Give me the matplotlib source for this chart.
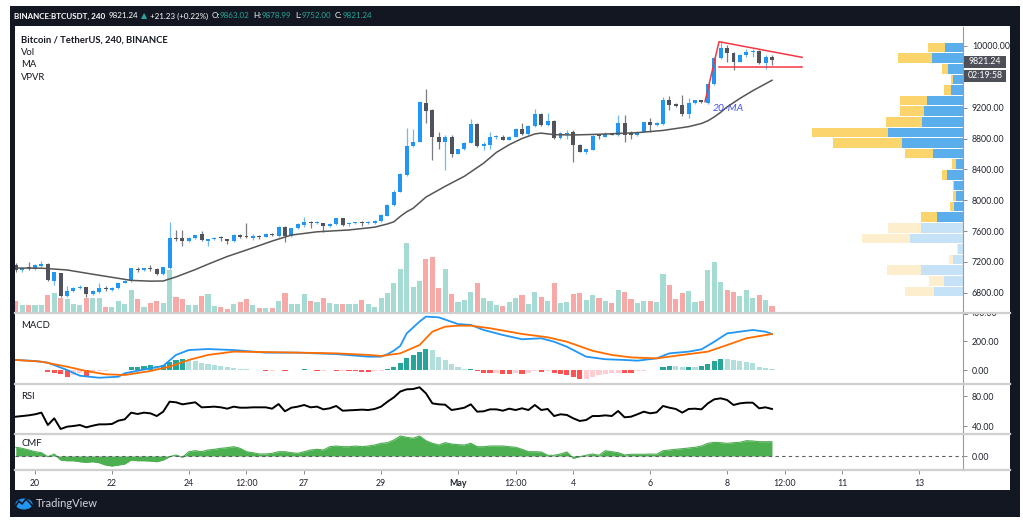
import numpy as np
import matplotlib
matplotlib.use("Agg")
import matplotlib.pyplot as plt
from matplotlib.patches import Rectangle, Ellipse
from matplotlib.lines import Line2D
from matplotlib.transforms import Bbox

plt.rcParams['font.family'] = ['Lato', 'DejaVu Sans']

# ---------------- data ----------------
opens = [7160,7090,7135,7110,7150,7175,6955,7050,6760,6825,
         6858,6870,6785,6815,6860,6835,6858,6930,6950,7110,
         7092,7118,7108,7045,7120,7515,7505,7465,7505,7560,
         7475,7493,7515,7495,7465,7550,7530,7510,7532,7527,
         7560,7530,7655,7530,7636,7680,7722,7698,7700,7660,
         7690,7765,7685,7700,7712,7705,7700,7730,7800,7935,
         8110,8330,8705,8760,9265,9165,8825,8760,8825,8605,
         8660,8746,8985,8705,8710,8815,8825,8785,8825,8920,
         8860,8962,9115,8975,9025,8805,8860,8890,8720,8630,
         8655,8850,8825,8865,8840,8995,8870,8840,8889,9010,
         8970,8990,9296,9245,9235,9118,9260,9296,9260,9503,
         9848,9970,9905,9797,9883,9926,9935,9776,9863.02]
highs = [7190,7140,7200,7175,7210,7180,7075,7060,6890,6870,
         6900,6880,6830,6920,6890,6870,6945,6965,7125,7135,
         7125,7155,7115,7140,7720,7610,7610,7520,7555,7600,
         7500,7525,7540,7500,7560,7565,7700,7560,7545,7570,
         7575,7665,7665,7645,7700,7785,7730,7725,7710,7700,
         7775,7775,7715,7720,7730,7725,7740,7820,7950,8130,
         8350,8930,8920,9290,9440,9180,8890,8840,8840,8670,
         8760,9050,9000,8760,8890,8845,8840,8835,8935,8995,
         8975,9180,9130,9130,9035,8880,8905,8905,8730,8670,
         8840,8860,8880,8875,9105,9100,8900,8900,9020,9060,
         9010,9343,9350,9260,9360,9330,9305,9305,9510,9860,
         10056,10013,9926,9900,9960,9960,9945,9880,9878.99]
lows = [7070,7070,7095,7100,7140,6950,6900,6750,6740,6815,
        6845,6750,6775,6800,6825,6825,6850,6925,6945,7075,
        7085,7085,7030,7035,7110,7465,7400,7455,7500,7470,
        7400,7485,7475,7430,7455,7505,7505,7490,7500,7520,
        7535,7525,7462,7525,7630,7655,7640,7690,7590,7650,
        7680,7670,7660,7690,7670,7695,7690,7720,7790,7920,
        8100,8320,8690,8750,9000,8520,8670,8390,8555,8595,
        8650,8740,8695,8650,8665,8800,8775,8775,8815,8850,
        8850,8955,8960,8965,8790,8795,8790,8500,8620,8600,
        8645,8800,8815,8840,8830,8760,8800,8830,8880,8890,
        8960,8980,9170,9210,9090,9070,9250,9255,9250,9490,
        9830,9797,9689,9790,9860,9860,9770,9700,9752.00]
closes = [7090,7125,7125,7160,7175,6960,7065,6760,6825,6855,
          6878,6785,6822,6865,6845,6858,6930,6952,7117,7095,
          7117,7108,7040,7130,7515,7500,7465,7505,7548,7478,
          7493,7514,7505,7465,7548,7520,7520,7530,7524,7560,
          7545,7655,7530,7636,7692,7722,7698,7712,7660,7690,
          7765,7680,7700,7710,7705,7712,7730,7810,7940,8110,
          8335,8705,8760,9280,9160,8825,8760,8824,8600,8660,
          8746,8985,8705,8725,8815,8828,8785,8825,8920,8860,
          8962,9114,8975,9025,8805,8868,8876,8720,8630,8660,
          8833,8835,8863,8850,8995,8845,8850,8889,9010,8970,
          9000,9296,9240,9225,9118,9257,9296,9270,9503,9848,
          9970,9905,9797,9883,9926,9935,9776,9863,9821.24]
volumes = [11.7,7.7,7.7,7.7,7.7,17.7,20,15,13.3,8.3,
           8,14.3,15,15,6,6,11.7,8.3,22.7,13.3,
           6,9.3,11.7,10,42.3,16,14,8,8,16.7,
           18.3,6.7,5.7,3.3,9,10.7,14,8,5,5,
           5,11.7,19.3,9,9,18.3,11.7,11,14.3,10,
           9,9,9,9,12.3,9,5.7,15,19.3,30,
           43.3,70,25.7,31.7,53.3,56,24.3,43.3,18.3,11,
           12.3,21,30,15,11.7,7.7,6.7,11,15,17.3,
           8.3,21,16,11.7,30,10,10.7,18.3,20,13,
           17.7,14.7,11.7,9.7,22.3,20.7,13.3,9.7,11.7,11.7,
           10.7,39,27.3,13.3,20,21.3,10.7,11.7,43,50.7,
           30.7,22.3,20.7,16.7,22.3,14.7,17.3,13,6.7]

ma_idx = [0,4,8,12,15,18,21,23,25,28,30,33,36,40,43,47,52,56,58,59,60,61,62,64,67,70,73,75,77,79,81,82,84,87,91,97,101,105,107,108,109,110,111,113,115,118]
ma_val = [7120,7118,7095,7040,7000,6960,6950,6952,7005,7100,7170,7270,7354,7470,7548,7590,7614,7650,7692,7720,7790,7850,7895,8040,8180,8310,8480,8620,8720,8800,8860,8870,8850,8846,8855,8876,8905,8954,8995,9030,9080,9140,9210,9320,9420,9555]

macd_idx = [0,3,5,8,10,13,16,17,21,23,25,27,30,34,39,44,50,55,57,58,59,60,61,63,64,66,69,71,73,76,79,82,84,86,89,92,95,97,100,102,105,107,109,111,113,115,117,118]
macd_val = [70,63,51,0,-40,-54,-47,-23,12,28,105,139,146,139,121,121,111,93,93,110,135,168,255,337,372,367,320,314,279,244,214,221,197,162,93,75,70,65,81,116,128,144,197,255,267,279,267,251]
signal_idx = [0,4,8,11,14,17,21,24,27,30,34,39,44,50,55,57,60,63,65,67,69,71,74,79,83,86,90,93,96,100,104,108,111,114,118]
signal_val = [70,58,23,-7,-30,-35,-7,23,70,105,128,125,121,116,105,98,116,174,267,302,309,309,291,251,228,197,134,105,88,81,105,128,174,221,251]
macd_hist = [-2,-2,-1,-1,-1,-16,-19,-30,-46,-35,
             -23,-39,-23,-9,-5,-2,-1,2,19,23,
             28,35,28,35,58,70,74,70,63,51,
             42,35,28,19,12,9,5,2,-2,-5,
             -5,-3,-5,-3,-1,7,2,-5,-5,-3,
             -7,-7,-8,-9,-11,-12,-8,-5,9,23,
             46,81,105,128,144,139,93,70,42,19,
             8,10,-7,-19,-23,-23,-28,-30,-23,-28,
             -19,-9,-14,-10,-23,-28,-35,-46,-65,-65,
             -46,-35,-28,-23,-19,-20,-21,-9,-5,-3,
             -2,23,28,28,23,24,23,28,40,65,
             76,76,70,65,56,46,23,16,9]
rsi = [52.4,53.3,54.2,55.6,57.8,41.3,50.2,36,39.1,40,
       41.3,38.2,40.4,42.2,42.2,42.7,47.1,48.9,57.8,56,
       57.8,56.9,53.3,59.1,72.4,71.6,68.9,70.2,71.6,64.9,
       65.3,65.8,64.9,63.1,65.8,64.4,64.4,64.9,64.9,64.9,
       63.1,69.3,59.6,64.4,65.8,68,64.9,65.8,62.2,63.6,
       66.7,60.4,60.9,61.3,61.8,61.3,62.7,65.8,72.4,78.2,
       86,88.9,89.3,91.6,83.6,70.2,68.9,68.4,61.3,62.7,
       64.4,68.9,59.1,59.6,62.2,62.2,60.4,63.1,61.3,63.6,
       61.3,68,61.3,62.7,53.3,55.6,54.7,50.2,46.7,48,
       53.3,53.3,54.2,53.3,60,51.6,52.4,55.6,59.1,56.9,
       58.2,66.7,64.4,62.7,57.8,62.7,63.1,62.2,70.2,75.6,
       76.9,74.7,68,70.2,71.1,71.1,63.6,64.9,62.7]
cmf = [0.087,0.077,0.060,0.043,0.033,-0.007,0.020,-0.040,-0.047,-0.047,
       -0.057,-0.063,-0.057,-0.067,-0.090,-0.100,-0.090,-0.080,-0.040,-0.047,
       -0.047,-0.050,-0.057,-0.040,-0.007,0.010,-0.013,0.043,0.053,0.043,
       0.060,0.067,0.077,0.083,0.093,0.077,0.043,0.033,0.020,0.020,
       0.027,0.043,0.043,0.033,0.027,0.043,0.060,0.067,0.060,0.093,
       0.100,0.093,0.093,0.100,0.093,0.100,0.110,0.127,0.133,0.160,
       0.200,0.187,0.177,0.200,0.153,0.127,0.110,0.133,0.120,0.113,
       0.110,0.127,0.093,0.093,0.100,0.100,0.100,0.093,0.087,0.067,
       0.043,0.043,0.040,0.007,0.007,0.020,0.040,-0.023,-0.007,0.007,
       0.020,0.007,0.053,0.043,0.033,0.010,0.017,0.017,0.017,0.020,
       0.017,0.053,0.060,0.067,0.073,0.080,0.087,0.100,0.127,0.137,
       0.133,0.127,0.133,0.137,0.153,0.150,0.143,0.143,0.143]

# volume profile rows, listed from the top row down
vp_up = [18.3,31.6,15,10,12.6,36.6,39.3,41.3,75,61.3,30.4,7.7,16,9.4,7,9.4,26.7,42.7,53.4,5.4,10.4,42.7,19.4,29.4]
vp_down = [17,33.7,6.3,2.6,7,26.7,24,36,76.3,69,28.3,4,5,0.7,3,4.3,16,32.7,48.3,1.3,4,34,15,29.3]
vp_in_value_area = [True]*17 + [False]*7
vp_top, vp_bottom = 10048, 6749

price_ticks = [6800, 7200, 7600, 8000, 8400, 8800, 9200, 10000]
macd_ticks = [0, 200]
rsi_ticks = [40, 80]
cmf_ticks = [0]
date_tick_idx = [3, 15, 27, 36, 45, 57, 69, 78, 87, 99, 111, 120, 129, 141]
date_tick_lab = ["20", "22", "24", "12:00", "27", "29", "May", "12:00", "4", "6", "8", "12:00", "11", "13"]

# trend lines (bar index, price)
tri_upper_x = [107.55, 109.74, 122.7]
tri_upper_y = [9278, 10056, 9853]
tri_lower_x = [109.74, 122.7]
tri_lower_y = [9724, 9724]

header_pieces = [
    ("BINANCE:BTCUSDT, 240", "#ffffff", "bold"),
    ("9821.24", "#ffffff", "normal"),
    ("\u25b2", "#26a69a", "normal"),
    ("+21.23 (+0.22%)", "#ffffff", "normal"),
    ("O:", "#ffffff", "normal"),
    ("9863.02", "#26a69a", "normal"),
    ("H:", "#ffffff", "normal"),
    ("9878.99", "#26a69a", "normal"),
    ("L:", "#ffffff", "normal"),
    ("9752.00", "#26a69a", "normal"),
    ("C:", "#ffffff", "normal"),
    ("9821.24", "#26a69a", "normal"),
]
header_gap_after = [3.5, 3, 3, 2.5, 0.5, 3.5, 0.5, 3.5, 0.5, 3.5, 0.5, 0]

# ---------------- figure ----------------
W, H = 1023, 529
fig = plt.figure(figsize=(W / 100, H / 100), dpi=100)
fig.patch.set_facecolor("white")
renderer = fig.canvas.get_renderer()

def fr(x0, y0, x1, y1):
    return [x0 / W, 1 - y1 / H, (x1 - x0) / W, (y1 - y0) / H]

def frect(x0, y0, x1, y1, color, z=-10):
    fig.patches.append(Rectangle((x0 / W, 1 - y1 / H), (x1 - x0) / W, (y1 - y0) / H,
                                 transform=fig.transFigure, facecolor=color,
                                 edgecolor="none", zorder=z))

def fline(x0, y0, x1, y1, color, lw, z=5, **kw):
    fig.add_artist(Line2D([x0 / W, x1 / W], [1 - y0 / H, 1 - y1 / H], color=color,
                          lw=lw, transform=fig.transFigure, zorder=z, **kw))

def ftext(x, y, s, **kw):
    return fig.text(x / W, 1 - y / H, s, **kw)

DARK = "#131722"
frect(10, 6, 1020, 517, DARK)
frect(15, 26, 1010, 490, "white", z=-9)

XL = (-0.125, 147.89)
AX_L, AX_R = 15, 963.5
PY0, PY1 = 27, 312.5
px_per_usd = 0.0771
def p_at(y):
    return 10000 - (y - 46) / px_per_usd
PRICE_LIM = (p_at(PY1), p_at(PY0))

n = len(closes)
idx = np.arange(n)
o = np.array(opens); c = np.array(closes); hi = np.array(highs); lo = np.array(lows)
up = c >= o

BLUE = "#2196f3"
BLUE_W = "#6fb8f2"
GRAY = "#50535c"
GRAY_W = "#7a7c82"

# volume
ax_vol = fig.add_axes(fr(AX_L, PY0, AX_R, PY1))
ax_vol.set_xlim(*XL)
ax_vol.set_ylim(0, PY1 - PY0)
ax_vol.axis("off")
vcol = np.where(up, "#a6dbd4", "#f6a9a6")
ax_vol.bar(idx, volumes, width=0.8, color=vcol, linewidth=0)

# volume profile
vp_w = 263.5
ax_vp = fig.add_axes(fr(AX_R - vp_w, PY0, AX_R, PY1))
ax_vp.set_xlim(-vp_w, 0)
ax_vp.set_ylim(*PRICE_LIM)
ax_vp.axis("off")
ax_vp.patch.set_alpha(0)
edges = np.linspace(vp_top, vp_bottom, len(vp_up) + 1)
step = edges[0] - edges[1]
for k in range(len(vp_up)):
    yc = (edges[k] + edges[k + 1]) / 2
    va = vp_in_value_area[k]
    cb = "#5aaeec" if va else "#c6e2f7"
    cy = "#fbd46c" if va else "#fdefcd"
    ax_vp.barh(yc, vp_up[k], left=-vp_up[k], height=step * 0.9, color=cb, linewidth=0)
    ax_vp.barh(yc, vp_down[k], left=-(vp_up[k] + vp_down[k]), height=step * 0.9, color=cy, linewidth=0)

# price
ax = fig.add_axes(fr(AX_L, PY0, AX_R, PY1))
ax.patch.set_alpha(0)
ax.set_xlim(*XL)
ax.set_ylim(*PRICE_LIM)
body_lo = np.minimum(o, c)
body_h = np.maximum(np.abs(c - o), 12)
ax.vlines(idx[up], lo[up], hi[up], color=BLUE_W, lw=0.9, zorder=2)
ax.vlines(idx[~up], lo[~up], hi[~up], color=GRAY_W, lw=0.9, zorder=2)
ax.bar(idx[up], body_h[up], bottom=body_lo[up], width=0.62, color=BLUE, linewidth=0, zorder=3)
ax.bar(idx[~up], body_h[~up], bottom=body_lo[~up], width=0.62, color=GRAY, linewidth=0, zorder=3)
ax.plot(ma_idx, ma_val, color="#555555", lw=1.1, zorder=4)
ax.plot(tri_upper_x, tri_upper_y, color="#f23645", lw=1.1, zorder=5)
ax.plot(tri_lower_x, tri_lower_y, color="#f23645", lw=1.1, zorder=5)
ax.text(111.2, p_at(108.5), "20-MA", color="#4353f0", fontsize=7.5, style="italic",
        ha="center", va="center", zorder=6)

def style_pane(a, ticks, fmt="%.2f"):
    for s in ["left", "top", "bottom"]:
        a.spines[s].set_visible(False)
    a.spines["right"].set_color("#9a9a9a")
    a.spines["right"].set_linewidth(0.8)
    a.yaxis.tick_right()
    a.set_yticks(ticks)
    a.set_yticklabels([fmt % t for t in ticks])
    a.tick_params(axis="y", length=3, width=0.7, color="#8a8a8a", labelsize=6.3,
                  labelcolor="#1e222d", pad=3)
    a.set_xticks([])

style_pane(ax, price_ticks)

# MACD
M0, M1 = 313, 384
def macd_y(v):
    return 370 - v * 28.7 / 200
ax_m = fig.add_axes(fr(AX_L, M0, AX_R, M1))
ax_m.set_xlim(*XL)
ax_m.set_ylim((370 - M1) * 200 / 28.7, (370 - M0) * 200 / 28.7)
hist = np.array(macd_hist, dtype=float)
hcols = []
for k, v in enumerate(hist):
    prev = hist[k - 1] if k > 0 else v
    if v >= 0:
        hcols.append("#26a69a" if v > prev else "#b2dfdb")
    else:
        hcols.append("#ff5252" if v < prev else "#ffcdd2")
ax_m.bar(idx, hist, width=0.8, color=hcols, linewidth=0)
ax_m.plot(macd_idx, macd_val, color="#2196f3", lw=1.3)
ax_m.plot(signal_idx, signal_val, color="#ff6d00", lw=1.3)
style_pane(ax_m, macd_ticks)

# RSI
R0, R1 = 385, 433
ax_r = fig.add_axes(fr(AX_L, R0, AX_R, R1))
ax_r.set_xlim(*XL)
ax_r.set_ylim(80 - (R1 - 396) / 0.75, 80 + (396 - R0) / 0.75)
ax_r.plot(idx, rsi, color="#000000", lw=1.4)
style_pane(ax_r, rsi_ticks)

# CMF
C0, C1 = 434, 469.5
ax_c = fig.add_axes(fr(AX_L, C0, AX_R, C1))
ax_c.set_xlim(*XL)
ax_c.set_ylim((456 - C1) / 100, (456 - C0) / 100)
ax_c.fill_between(idx, 0, cmf, color="#4caf50", linewidth=0)
ax_c.plot(idx, cmf, color="#4caf50", lw=0.8)
ax_c.axhline(0, color="#5d5f66", lw=0.8, dashes=(3, 3))
style_pane(ax_c, cmf_ticks)
ax_c.set_xticks(date_tick_idx)
ax_c.set_xticklabels(date_tick_lab)
ax_c.tick_params(axis="x", length=3, width=0.7, color="#8a8a8a", labelsize=6.3,
                 labelcolor="#1e222d", pad=4)
for lab in ax_c.get_xticklabels():
    if lab.get_text() == "May":
        lab.set_fontweight("bold")

# 400.00 label partly hidden under the separator
t400 = ftext(970, macd_y(400) + 1, "400.00", fontsize=6.3, color="#1e222d", va="center", ha="left")
t400.set_clip_box(Bbox([[963, H - 384], [1010, H - 313.5]]))
t400.set_clip_on(True)
fline(963.5, macd_y(400) + 1, 967, macd_y(400) + 1, "#8a8a8a", 0.7)

# separators
for ys in [312.8, 384.3, 433.5, 469.5]:
    fline(15, ys, 1010, ys, "#cfcfcf", 1.6)

# last price boxes
frect(964, 55.5, 1006, 67.5, "#4d5059", z=6)
ftext(985, 61.5, "9821.24", color="white", fontsize=6.3, ha="center", va="center", zorder=7)
frect(964, 69.5, 1006, 81.5, "#4d5059", z=6)
ftext(985, 75.5, "02:19:58", color="white", fontsize=6.3, ha="center", va="center", zorder=7)

# legend texts
ftext(21, 40, "Bitcoin / TetherUS, 240, BINANCE", fontsize=6.8, fontweight="bold", color="#131722", va="center")
ftext(21, 52.5, "Vol", fontsize=6.8, color="#131722", va="center")
ftext(21, 64.5, "MA", fontsize=6.8, color="#131722", va="center")
ftext(21, 77, "VPVR", fontsize=6.8, color="#131722", va="center")
ftext(21, 325.5, "MACD", fontsize=6.8, color="#131722", va="center")
ftext(21, 396.5, "RSI", fontsize=6.8, color="#131722", va="center")
ftext(21, 443, "CMF", fontsize=6.8, color="#131722", va="center")

# header: pieces laid out one after another, font scaled to fit 14..373 px
def layout_header(fs, draw):
    x = 14.0
    for (s, col, wt), gap in zip(header_pieces, header_gap_after):
        t = ftext(x, 16, s, color=col, fontsize=fs, fontweight=wt, va="center", ha="left")
        w = t.get_window_extent(renderer).width
        if not draw:
            t.remove()
        x += w + gap
    return x

end = layout_header(7.0, False)
fs_h = min(7.0, 7.0 * (373 - 14 - 28) / (end - 14 - 28))
layout_header(fs_h, True)

# TradingView logo
logo = [(15, 507), (19, 501), (22, 504), (26, 499), (30, 503), (33, 507)]
fig.add_artist(Ellipse((24 / W, 1 - 504 / H), 17 / W, 11 / H, transform=fig.transFigure,
                       facecolor="#2196f3", edgecolor="none", zorder=6))
fig.add_artist(Line2D([p[0] / W for p in logo], [1 - p[1] / H for p in logo], color="#131722",
                      lw=1.2, transform=fig.transFigure, zorder=7))
ftext(36, 503.5, "TradingView", color="#d1d4dc", fontsize=8, va="center", ha="left")

fig.savefig("out.png", dpi=100, facecolor="white")
